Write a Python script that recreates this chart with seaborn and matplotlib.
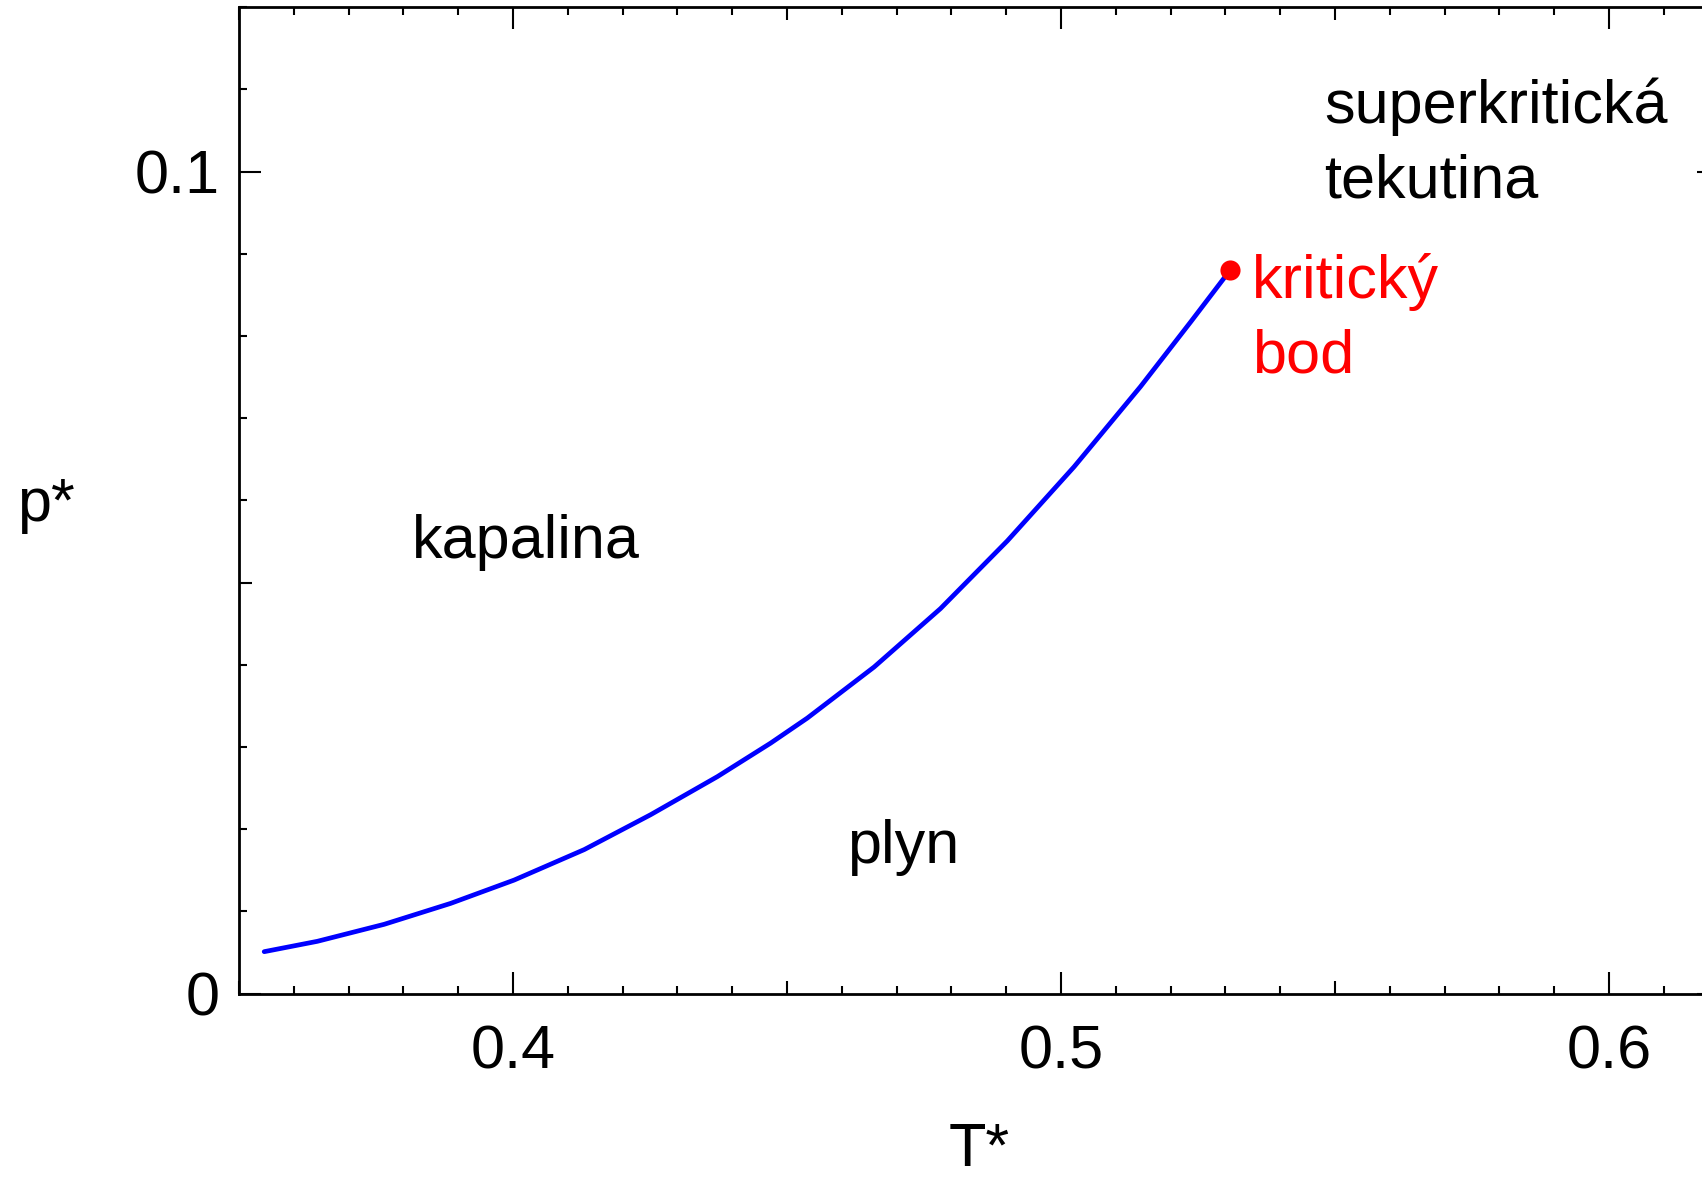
import matplotlib
matplotlib.use("Agg")
import matplotlib.pyplot as plt
from matplotlib.ticker import MultipleLocator, FuncFormatter
import seaborn as sns
import pandas as pd

# ---- data ----
T_curve = [0.3546, 0.3643, 0.3765, 0.3886, 0.4002, 0.4130, 0.4251, 0.4373,
           0.4470, 0.4537, 0.4659, 0.4780, 0.4902, 0.5024, 0.5145, 0.5237,
           0.5297, 0.5309]
p_curve = [0.00509, 0.00635, 0.00842, 0.01096, 0.01380, 0.01751, 0.02175,
           0.02639, 0.03046, 0.03351, 0.03973, 0.04683, 0.05507, 0.06410,
           0.07384, 0.08175, 0.08700, 0.08800]
T_crit = [0.5309]
p_crit = [0.08800]

region_labels = ["kapalina", "plyn", "superkritická", "tekutina"]
region_T = [0.3815, 0.4609, 0.5481, 0.5481]
region_p = [0.0530, 0.0159, 0.1059, 0.0968]
crit_labels = ["kritický", "bod"]
crit_label_T = [0.5348, 0.5348]
crit_label_p = [0.0846, 0.0756]

x_label = "T*"
y_label = "p*"

sns.set_theme(style="white")
plt.rcParams["font.family"] = ["Liberation Sans", "DejaVu Sans"]
plt.rcParams["text.color"] = "black"
plt.rcParams["axes.labelcolor"] = "black"
plt.rcParams["xtick.color"] = "black"
plt.rcParams["ytick.color"] = "black"

FS = 44
fig = plt.figure(figsize=(17.02, 11.78), dpi=100)
ax = fig.add_axes([0.14042, 0.15662, 0.86934, 0.83718])

df = pd.DataFrame({"T": T_curve, "p": p_curve})
sns.lineplot(data=df, x="T", y="p", sort=False, color="#0000ff",
             linewidth=3.4, ax=ax)
sns.scatterplot(x=T_crit, y=p_crit, color="#ff0000", s=210, linewidth=0,
                ax=ax, zorder=5)

for lab, tx, py in zip(region_labels, region_T, region_p):
    ax.text(tx, py, lab, fontsize=FS, color="black", ha="left", va="baseline")
for lab, tx, py in zip(crit_labels, crit_label_T, crit_label_p):
    ax.text(tx, py, lab, fontsize=FS, color="#ff0000", ha="left", va="baseline")

ax.set_xlim(0.35, 0.62)
ax.set_ylim(0.0, 0.12)

for axis in (ax.xaxis, ax.yaxis):
    axis.set_major_locator(MultipleLocator(0.05))
    axis.set_minor_locator(MultipleLocator(0.01))

def fmt(v, _):
    r = round(v, 4)
    if abs(round(r / 0.1) * 0.1 - r) < 1e-6:
        return f"{r:g}"
    return ""

ax.xaxis.set_major_formatter(FuncFormatter(fmt))
ax.yaxis.set_major_formatter(FuncFormatter(fmt))

ax.tick_params(which="both", direction="in", top=True, right=True,
               bottom=True, left=True, color="black", width=1.5)
ax.tick_params(which="major", length=15.8, labelsize=FS, labelcolor="black")
ax.tick_params(which="minor", length=6.0)
ax.tick_params(axis="x", which="major", pad=22)
ax.tick_params(axis="y", which="major", pad=14)

for s in ax.spines.values():
    s.set_visible(True)
    s.set_color("black")
    s.set_linewidth(2.0)

ax.set_xlabel(x_label, fontsize=FS, color="black")
ax.set_ylabel(y_label, fontsize=FS, rotation=0, ha="center", va="center",
              color="black")
ax.xaxis.set_label_coords(0.5, -0.130)
ax.yaxis.set_label_coords(-0.1304, 0.495)

fig.canvas.draw()
# medium-length ticks at odd multiples of 0.05
for axis in (ax.xaxis, ax.yaxis):
    for tick in axis.get_major_ticks():
        v = round(tick.get_loc(), 4)
        if abs(round(v / 0.1) * 0.1 - v) > 1e-6:
            tick.tick1line.set_markersize(9.4)
            tick.tick2line.set_markersize(9.4)

fig.savefig("out.png", dpi=100)
